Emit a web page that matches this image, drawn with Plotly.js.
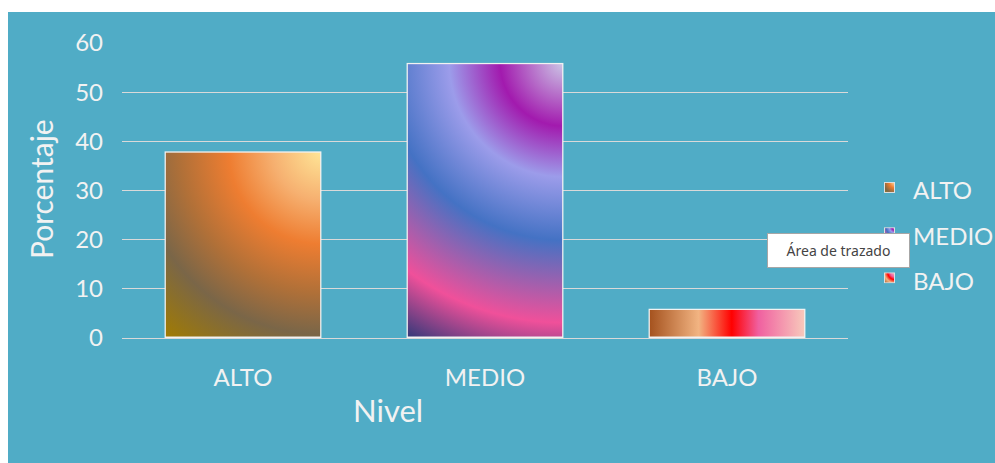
<!DOCTYPE html>
<html>
<head>
<meta charset="utf-8">
<script src="https://cdn.plot.ly/plotly-3.0.1.min.js"></script>
<style>html,body{margin:0;padding:0;background:#fff;}#chart{width:995px;height:463px;}</style>
</head>
<body>
<div id="chart"></div>
<script>
// ---- data ----
const categories = ["ALTO", "MEDIO", "BAJO"];
const porcentaje = [38, 56, 6];
const yTicks = [0, 10, 20, 30, 40, 50, 60];

// ---- styling ----
const FONT = "Lato, 'Open Sans', sans-serif";
const TXT = "#F2F2F2";
const TEAL = "#50ACC6";
const GRID = "#D9D9D9";
const W = 995, H = 463;
const M = {l: 122, r: 147, t: 43, b: 125, autoexpand: false};
const PW = W - M.l - M.r, PH = H - M.t - M.b;
const BARGAP = 0.35;
const YMAX = 60;

const gradients = {
  ALTO:  {type: "radial", stops: [[0, "#FFE697"], [0.2, "#F6B070"], [0.38, "#EE7D31"], [0.58, "#B07038"], [0.75, "#7A6648"], [1, "#A27C00"]]},
  MEDIO: {type: "radial", stops: [[0, "#CCC8E6"], [0.2, "#A21AAE"], [0.36, "#9C9CEA"], [0.56, "#4472C4"], [0.82, "#F0509A"], [1, "#2E3878"]]},
  BAJO:  {type: "linear", stops: [[0, "#A3501C"], [0.32, "#F2B482"], [0.53, "#FF0000"], [0.70, "#F060A0"], [1, "#F8CCBC"]]}
};

function stopTags(stops, reverse) {
  return stops.map(s => [reverse ? 1 - s[0] : s[0], s[1]])
    .sort((a, b) => a[0] - b[0])
    .map(s => `<stop offset="${s[0]}" stop-color="${s[1]}"/>`)
    .join("");
}

function gradSVG(w, h, g, forceRadial, stroke) {
  let def;
  if (g.type === "radial" || forceRadial) {
    const r = Math.sqrt(w * w + h * h);
    def = `<radialGradient id="g" gradientUnits="userSpaceOnUse" cx="${w}" cy="0" r="${r}" fx="${w}" fy="0">${stopTags(g.stops, g.type !== "radial")}</radialGradient>`;
  } else {
    def = `<linearGradient id="g" gradientUnits="userSpaceOnUse" x1="0" y1="0" x2="${w}" y2="0">${stopTags(g.stops, false)}</linearGradient>`;
  }
  const sw = stroke || 0;
  const rect = sw > 0
    ? `<rect x="${sw / 2}" y="${sw / 2}" width="${w - sw}" height="${h - sw}" fill="url(#g)" stroke="#F2F2F2" stroke-width="${sw}"/>`
    : `<rect x="0.5" y="0.5" width="${w - 1}" height="${h - 1}" fill="url(#g)" stroke="#E0E0E0" stroke-width="1"/>`;
  const svg = `<svg xmlns="http://www.w3.org/2000/svg" width="${w}" height="${h}" viewBox="0 0 ${w} ${h}" preserveAspectRatio="none"><defs>${def}</defs>${rect}</svg>`;
  return "data:image/svg+xml;charset=utf-8," + encodeURIComponent(svg);
}

const barPxW = (1 - BARGAP) * PW / categories.length;

const traces = categories.map((c, i) => ({
  type: "bar",
  x: [c],
  y: [porcentaje[i]],
  name: c,
  legendgroup: c,
  marker: {color: "rgba(0,0,0,0)", line: {width: 0}},
  hoverinfo: "skip"
}));

const barImages = categories.map((c, i) => {
  const hpx = porcentaje[i] / YMAX * PH;
  return {
    source: gradSVG(barPxW, hpx, gradients[c], false, 1.5),
    xref: "x", yref: "y",
    x: c, y: porcentaje[i],
    sizex: 1 - BARGAP, sizey: porcentaje[i],
    xanchor: "center", yanchor: "top",
    sizing: "stretch", layer: "above"
  };
});

const layout = {
  width: W, height: H,
  margin: M,
  paper_bgcolor: "#FFFFFF",
  plot_bgcolor: "rgba(0,0,0,0)",
  barmode: "overlay",
  bargap: BARGAP,
  showlegend: true,
  hovermode: false,
  font: {family: FONT, color: TXT, size: 24},
  xaxis: {
    type: "category",
    categoryarray: categories,
    range: [-0.5, 2.5],
    showgrid: false,
    showline: true, linecolor: GRID, linewidth: 1,
    ticks: "", ticklabelstandoff: 18,
    tickfont: {family: FONT, color: TXT, size: 24},
    fixedrange: true
  },
  yaxis: {
    range: [0, YMAX],
    tickvals: yTicks,
    showgrid: true, gridcolor: GRID, gridwidth: 1,
    zeroline: false, showline: false,
    ticks: "", ticklabelstandoff: 18,
    tickfont: {family: FONT, color: TXT, size: 24},
    fixedrange: true
  },
  legend: {
    x: (873 - M.l) / PW, xanchor: "left",
    y: (H - M.b - 168) / PH, yanchor: "top",
    bgcolor: "rgba(0,0,0,0)",
    font: {family: FONT, color: TXT, size: 24},
    tracegroupgap: 11,
    traceorder: "grouped",
    itemclick: false, itemdoubleclick: false
  },
  shapes: [{
    type: "rect", xref: "paper", yref: "paper", layer: "below",
    x0: (8 - M.l) / PW, x1: (W + 20 - M.l) / PW,
    y0: -(M.b + 20) / PH, y1: (H - M.b - 12) / PH,
    fillcolor: TEAL, line: {width: 0}
  }],
  annotations: [
    {text: "Porcentaje", xref: "paper", yref: "paper", x: (41 - M.l) / PW, y: (H - M.b - 189) / PH,
     textangle: -90, showarrow: false, xanchor: "center", yanchor: "middle",
     font: {family: FONT, color: TXT, size: 30}},
    {text: "Nivel", xref: "paper", yref: "paper", x: (388 - M.l) / PW, y: (H - M.b - 410) / PH,
     showarrow: false, xanchor: "center", yanchor: "middle",
     font: {family: FONT, color: TXT, size: 31}},
    {text: "Área de trazado", xref: "paper", yref: "paper",
     x: (838.5 - M.l) / PW, y: (H - M.b - 250) / PH,
     showarrow: false, xanchor: "center", yanchor: "middle",
     width: 139, height: 31, bgcolor: "#FFFFFF", bordercolor: "#A6A6A6", borderwidth: 1,
     font: {family: "'Noto Sans', 'DejaVu Sans', sans-serif", color: "#444444", size: 14}}
  ],
  images: barImages
};

Plotly.newPlot("chart", traces, layout, {displayModeBar: false, staticPlot: true}).then(gd => {
  const gb = gd.getBoundingClientRect();
  const imgs = barImages.slice();
  const items = gd.querySelectorAll(".legend .traces");
  items.forEach((t, i) => {
    const tx = t.querySelector(".legendtext");
    if (!tx) return;
    const b = tx.getBoundingClientRect();
    const cx = b.left - gb.left - 23.5;
    const cy = b.top + b.height / 2 - gb.top - 2.5;
    const name = t.textContent.trim() || categories[i];
    imgs.push({
      source: gradSVG(11, 11, gradients[name] || gradients[categories[i]], true, 0),
      xref: "paper", yref: "paper",
      x: (cx - M.l) / PW, y: (H - M.b - cy) / PH,
      sizex: 11 / PW, sizey: 11 / PH,
      xanchor: "center", yanchor: "middle",
      sizing: "stretch", layer: "above"
    });
  });
  return Plotly.relayout(gd, {images: imgs});
});
</script>
</body>
</html>
